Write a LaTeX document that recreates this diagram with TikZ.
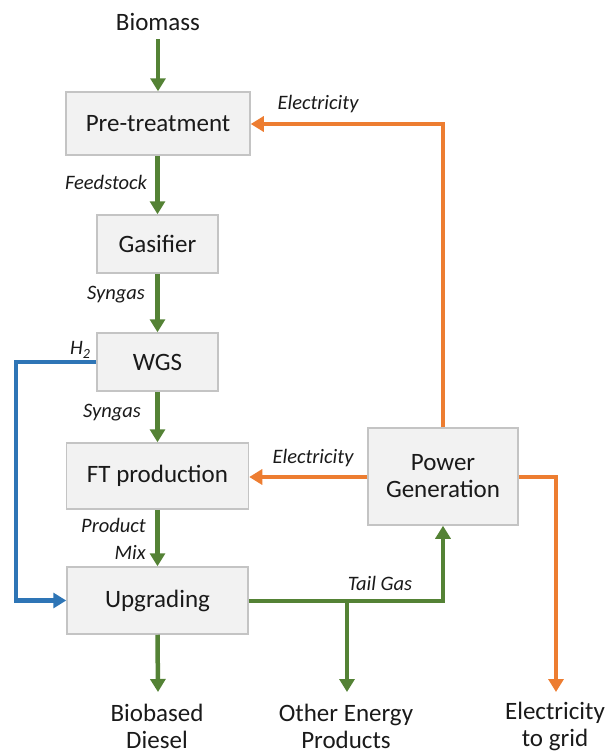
\documentclass[tikz,border=0pt]{standalone}
\usepackage{fontspec}
\setmainfont{Carlito}
\usetikzlibrary{arrows.meta}
\definecolor{flowgreen}{HTML}{548235}
\definecolor{floworange}{HTML}{ED7D31}
\definecolor{flowblue}{HTML}{2E75B6}
\definecolor{boxfill}{HTML}{F2F2F2}
\definecolor{boxline}{HTML}{C4C4C4}
\definecolor{ink}{HTML}{1A1A1A}
\newcommand{\subtwo}{\raisebox{-4pt}{\fontsize{14}{14}\selectfont 2}}
\begin{document}
\begin{tikzpicture}[x=1pt,y=-1pt,
  every node/.style={text=ink},
  unit/.style={draw=boxline,line width=1.5pt,fill=boxfill,inner sep=0pt,
    font=\fontsize{25}{27}\selectfont,align=center},
  ends/.style={font=\fontsize{25}{27}\selectfont,align=center,inner sep=0pt},
  tag/.style={font=\fontsize{20.5}{23}\selectfont\itshape,inner sep=0pt},
  flow/.style={line width=4.5pt,-{Triangle[width=15pt,length=13pt]}},
  gflow/.style={flow,draw=flowgreen,color=flowgreen},
  oflow/.style={flow,draw=floworange,color=floworange},
  bflow/.style={flow,draw=flowblue,color=flowblue}]
\useasboundingbox (0,0) rectangle (608,755);

% process units
\node[unit,minimum width=184pt,minimum height=63pt] (pre) at (158,123.5) {Pre-treatment};
\node[unit,minimum width=121pt,minimum height=58pt] (gas) at (157.5,244) {Gasifier};
\node[unit,minimum width=121pt,minimum height=58pt] (wgs) at (157.5,362) {WGS};
\node[unit,minimum width=182pt,minimum height=66pt] (ft) at (157.5,476) {FT production};
\node[unit,minimum width=181pt,minimum height=67pt] (upg) at (157.5,600.5) {Upgrading};
\node[unit,minimum width=150pt,minimum height=97pt] (pow) at (443,476.5) {Power\\Generation};

% inputs and products
\node[ends] (bio) at (158,22) {Biomass};
\node[ends] (diesel) at (157,726.5) {Biobased\\Diesel};
\node[ends] (other) at (346,726.5) {Other Energy\\Products};
\node[ends] (grid) at (555,726.5) {Electricity\\to grid};

% free ends and bends
\coordinate (bioend) at (158,39);
\coordinate (dieselend) at (158,692);
\coordinate (otherend) at (347,692);
\coordinate (gridend) at (556,692);
\coordinate (branch) at (347,601);

% main green chain
\draw[gflow] (bioend) -- (pre.south |- pre.north);
\draw[gflow] (pre.south -| gas.north) -- (gas.north);
\draw[gflow] (gas.south) -- (wgs.north);
\draw[gflow] (wgs.south) -- (ft.north);
\draw[gflow] (ft.south) -- (upg.north);
\draw[gflow] (upg.south) -- (dieselend);

% tail gas and other products
\draw[gflow] (upg.east |- branch) -- (branch) -| (pow.south);
\draw[gflow] (branch) -- (otherend);

% hydrogen bypass
\draw[bflow] (wgs.west) -- (16,362) |- (upg.west);

% electricity
\draw[oflow] (pow.north) |- (pre.east |- 0,124);
\draw[oflow] (pow.west |- 0,477) -- (ft.east |- 0,477);
\draw[oflow] (pow.east |- 0,477) -| (gridend);

% stream labels
\node[tag] (l1) at (106,182) {Feedstock};
\node[tag] (l2) at (116,295) {Syngas};
\node[tag] (l3) at (80,350) {H\subtwo};
\node[tag] (l4) at (112,413) {Syngas};
\node[tag,anchor=east] (l5) at (146,525) {Product};
\node[tag,anchor=east] (l6) at (146,552) {Mix};
\node[tag] (l7) at (380,583) {Tail Gas};
\node[tag] (l8) at (318,104) {Electricity};
\node[tag] (l9) at (313,458) {Electricity};
\end{tikzpicture}
\end{document}
